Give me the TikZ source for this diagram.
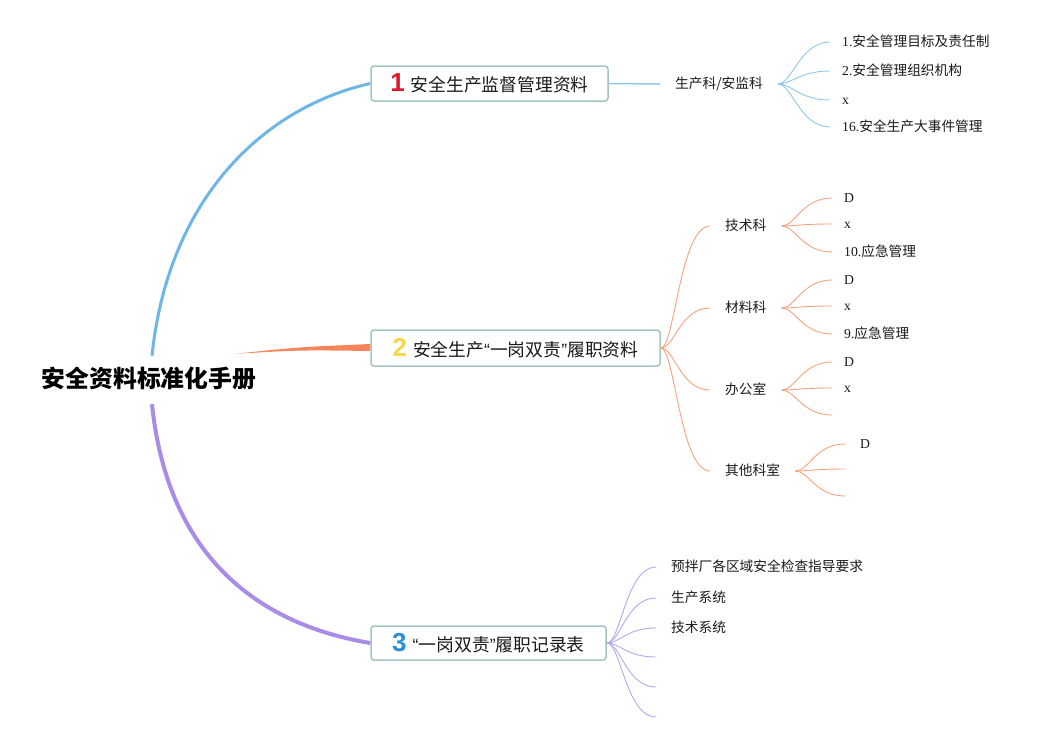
\documentclass[tikz,border=0pt]{standalone}
\usepackage{fontspec}
\setmainfont{Liberation Serif}
\newfontfamily\cjk{Noto Sans CJK SC}
\newfontfamily\numf{Liberation Sans}
\definecolor{bmain}{HTML}{6DB6E6}
\definecolor{bleaf}{HTML}{8EC6EA}
\definecolor{omain}{HTML}{F4845A}
\definecolor{oleaf}{HTML}{F5A27F}
\definecolor{pmain}{HTML}{A98BE8}
\definecolor{pleaf}{HTML}{B9A6EE}
\definecolor{boxb}{HTML}{A5C6C0}
\definecolor{nred}{HTML}{E0182D}
\definecolor{nyel}{HTML}{F6D84A}
\definecolor{nblu}{HTML}{2690D8}
\definecolor{txt}{HTML}{1A1A1A}
\tikzset{
  topic/.style={draw=boxb, line width=1.5pt, rounded corners=3pt, fill=white, inner sep=0pt,
    font=\cjk\fontsize{17.8}{20}\selectfont, text=txt},
  midnode/.style={anchor=west, inner xsep=15pt, inner ysep=0pt, text height=11pt, text depth=2.5pt,
    font=\cjk\fontsize{13.7}{15}\selectfont, text=txt},
  leaf/.style={anchor=west, inner xsep=12pt, inner ysep=0pt, text height=11pt, text depth=2.5pt,
    font=\fontsize{13.7}{15}\selectfont, text=txt},
  fanline/.style={to path={.. controls +(14,0) and +(-30,0) .. (\tikztotarget)}},
}
\newcommand\numicon[2]{{\numf\bfseries\fontsize{26}{26}\selectfont\color{#1}#2}\hspace{6pt}}
\newcommand\myLQ{{\numf“}}
\newcommand\myRQ{{\numf”}}
\begin{document}
\begin{tikzpicture}[x=1pt,y=-1pt]
\useasboundingbox (0,0) rectangle (1052,742);

% root
\node[font=\cjk\bfseries\fontsize{23.8}{26}\selectfont, text=black, inner xsep=0pt, inner ysep=13pt,
  text height=18pt, text depth=4pt] (root) at (149,380) {安全资料标准化手册};

% topics
\node[topic, minimum width=237pt, minimum height=35pt] (b1) at (489.5,83.5)
  {\numicon{nred}{1}安全生产监督管理资料};
\node[topic, minimum width=289pt, minimum height=36pt] (b2) at (515.5,348)
  {\numicon{nyel}{2}安全生产\myLQ 一岗双责\myRQ 履职资料};
\node[topic, minimum width=235pt, minimum height=34pt] (b3) at (488.5,643)
  {\numicon{nblu}{3}\myLQ 一岗双责\myRQ 履职记录表};

% main branches
\draw[bmain, line width=3pt] ([xshift=3pt]root.north) .. controls (168,200) and (262,108) .. (b1.west);
\draw[pmain, line width=4pt] ([xshift=3pt]root.south) .. controls (168,560) and (262,625) .. (b3.west);
\fill[omain] ([xshift=86pt,yshift=2pt]root.north) .. controls (300,350) .. ([yshift=-3pt]b2.west)
  -- ([yshift=4pt]b2.west) .. controls (300,347) .. ([xshift=86pt,yshift=2pt]root.north) -- cycle;

% branch 1
\node[midnode] (m1) at (660,84) {生产科/安监科};
\draw[bleaf, line width=1.5pt] (b1.east) -- (m1.west);
\node[leaf] (l11) at (830,42) {1.{\cjk 安全管理目标及责任制}};
\node[leaf] (l12) at (830,71) {2.{\cjk 安全管理组织机构}};
\node[leaf] (l13) at (830,100) {x};
\node[leaf] (l14) at (830,127) {16.{\cjk 安全生产大事件管理}};
\foreach \t in {l11,l12,l13,l14}
  \draw[bleaf, line width=0.9pt] (m1.east) to[fanline] (\t.west);

% branch 2
\node[midnode] (m21) at (710,226) {技术科};
\node[midnode] (m22) at (710,308) {材料科};
\node[midnode] (m23) at (710,390) {办公室};
\node[midnode] (m24) at (710,471) {其他科室};
\foreach \t in {m21,m22,m23,m24}
  \draw[oleaf, line width=0.9pt] (b2.east) to[fanline] (\t.west);

\node[leaf] (a1) at (832,198) {D};
\node[leaf] (a2) at (832,224) {x};
\node[leaf] (a3) at (832,252) {10.{\cjk 应急管理}};
\foreach \t in {a1,a2,a3}
  \draw[oleaf, line width=0.9pt] (m21.east) to[fanline] (\t.west);

\node[leaf] (c1) at (832,280) {D};
\node[leaf] (c2) at (832,306) {x};
\node[leaf] (c3) at (832,334) {9.{\cjk 应急管理}};
\foreach \t in {c1,c2,c3}
  \draw[oleaf, line width=0.9pt] (m22.east) to[fanline] (\t.west);

\node[leaf] (o1) at (832,362) {D};
\node[leaf] (o2) at (832,388) {x};
\coordinate (o3) at (832,415);
\draw[oleaf, line width=0.9pt] (m23.east) to[fanline] (o1.west);
\draw[oleaf, line width=0.9pt] (m23.east) to[fanline] (o2.west);
\draw[oleaf, line width=0.9pt] (m23.east) to[fanline] (o3);

\node[leaf, inner xsep=15pt] (q1) at (845,444) {D};
\coordinate (q2) at (845,469);
\coordinate (q3) at (845,496);
\draw[oleaf, line width=0.9pt] (m24.east) to[fanline] (q1.west);
\draw[oleaf, line width=0.9pt] (m24.east) to[fanline] (q2);
\draw[oleaf, line width=0.9pt] (m24.east) to[fanline] (q3);

% branch 3
\node[midnode] (p1) at (656,567) {预拌厂各区域安全检查指导要求};
\node[midnode] (p2) at (656,598) {生产系统};
\node[midnode] (p3) at (656,628) {技术系统};
\coordinate (p4) at (656,657);
\coordinate (p5) at (656,687);
\coordinate (p6) at (656,717);
\foreach \t in {p1,p2,p3}
  \draw[pleaf, line width=0.9pt] (b3.east) to[fanline] (\t.west);
\foreach \t in {p4,p5,p6}
  \draw[pleaf, line width=0.9pt] (b3.east) to[fanline] (\t);
\end{tikzpicture}
\end{document}
